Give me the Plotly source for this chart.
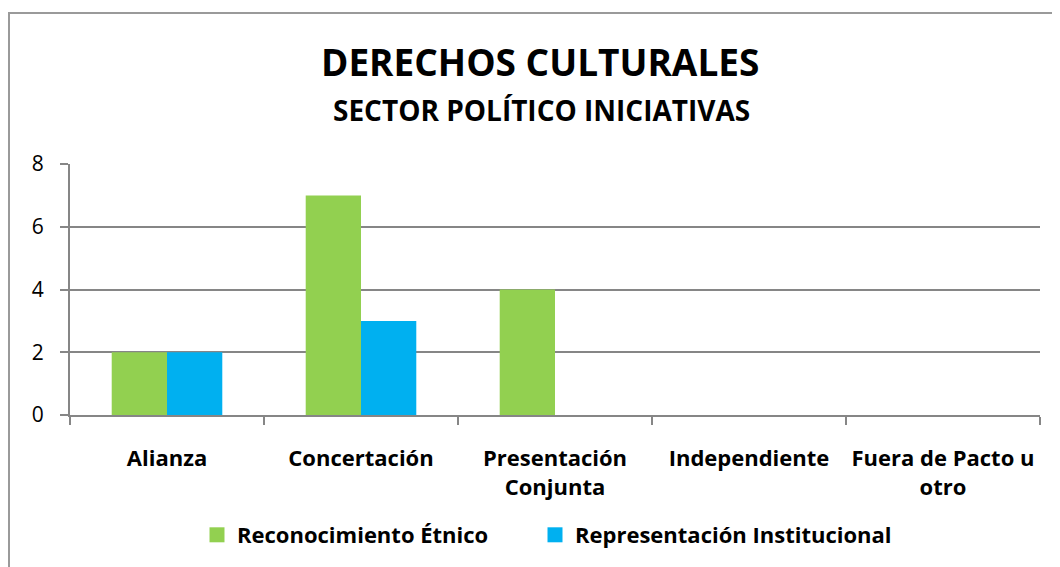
import plotly.graph_objects as go

categories = ["Alianza", "Concertación", "Presentación<br>Conjunta", "Independiente", "Fuera de Pacto u<br>otro"]
reconocimiento = [2, 7, 4, 0, 0]
representacion = [2, 3, 0, 0, 0]
series_names = ["Reconocimiento Étnico", "Representación Institucional"]
series_colors = ["#92D050", "#00B0F0"]
y_ticks = [0, 2, 4, 6, 8]

FONT = "'Open Sans', Carlito, Calibri, sans-serif"

fig = go.Figure()
for vals, name, col in zip([reconocimiento, representacion], series_names, series_colors):
    fig.add_trace(go.Bar(x=categories, y=vals, name=name, showlegend=False,
                         marker=dict(color=col, line=dict(width=0))))
# legend entries with square swatches (one legend box each for Excel-like spacing)
for name, col, lg in zip(series_names, series_colors, ["legend", "legend2"]):
    fig.add_trace(go.Scatter(x=[None], y=[None], mode="markers", name=name, legend=lg,
                             marker=dict(symbol="square", size=15, color=col)))

OFF = 8  # page body margin
L, R, T, B = 70 - OFF, 1040 - OFF, 164 - OFF, 415 - OFF
W, H = 1060, 567
pw, ph = R - L, B - T

def px(x):
    return (x - OFF - L) / pw

def py(y):
    return (B - (y - OFF)) / ph

legend_common = dict(orientation="h", yanchor="middle", xanchor="left",
                     font=dict(size=22, family=FONT, weight="bold"), itemwidth=30,
                     bgcolor="rgba(0,0,0,0)")

fig.update_layout(
    width=W, height=H,
    margin=dict(l=L, r=W - R, t=T, b=H - B, autoexpand=False),
    paper_bgcolor="white", plot_bgcolor="white",
    barmode="group", bargap=0.43, bargroupgap=0,
    font=dict(family=FONT, color="black"),
    showlegend=True,
    legend=dict(x=px(207 - 10), y=py(535), **legend_common),
    legend2=dict(x=px(545 - 10), y=py(535), **legend_common),
    annotations=[
        dict(text="<b>DERECHOS CULTURALES</b>", x=px(540), y=py(62), xref="paper", yref="paper",
             showarrow=False, font=dict(size=37, family=FONT), xanchor="center", yanchor="middle"),
        dict(text="<b>SECTOR POLÍTICO INICIATIVAS</b>", x=px(541), y=py(110), xref="paper", yref="paper",
             showarrow=False, font=dict(size=28, family=FONT), xanchor="center", yanchor="middle"),
    ],
    shapes=[
        dict(type="rect", xref="paper", yref="paper", x0=px(9), y0=py(640), x1=px(1120), y1=py(13),
             line=dict(color="#9a9a9a", width=2), layer="below"),
    ],
)

fig.update_xaxes(
    showline=True, linecolor="#868686", linewidth=2,
    ticks="outside", tickson="boundaries", ticklen=8, tickcolor="#868686", tickwidth=2,
    tickfont=dict(size=22, family=FONT, weight="bold"),
    ticklabelstandoff=23,
    showgrid=False,
)
fig.update_yaxes(
    range=[0, 8], tickvals=y_ticks,
    showline=True, linecolor="#868686", linewidth=2,
    ticks="outside", ticklen=8, tickcolor="#868686", tickwidth=2,
    showgrid=True, gridcolor="#868686", gridwidth=2,
    zeroline=False,
    ticklabelstandoff=12,
    tickfont=dict(size=21, family=FONT),
)

fig.write_html("out.html")
